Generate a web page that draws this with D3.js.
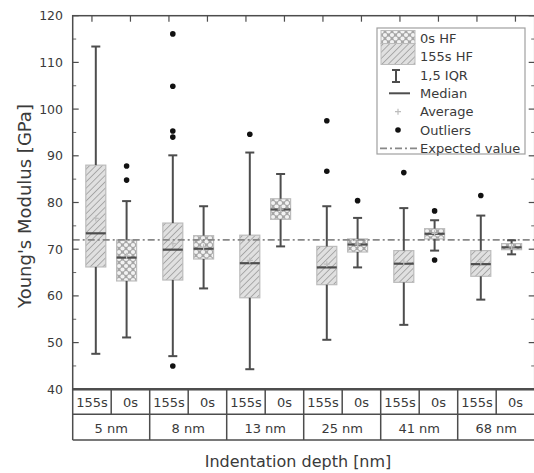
<!DOCTYPE html>
<html>
<head>
<meta charset="utf-8">
<script src="https://cdn.jsdelivr.net/npm/d3@7"></script>
<style>
  body { margin: 0; background: #fff; }
  text { font-family: "DejaVu Sans", sans-serif; fill: #3a3a3a; }
</style>
</head>
<body>
<script>
// depth groups and treatments (order inside each group: 155s then 0s)
var depths = ["5 nm", "8 nm", "13 nm", "25 nm", "41 nm", "68 nm"];
var treatments = ["155s", "0s"];
var yTicks = [40, 50, 60, 70, 80, 90, 100, 110, 120];
var expected = 72;

// 155s HF boxes
var lo155  = [47.6, 47.1, 44.3, 50.6, 53.8, 59.2];
var q1_155 = [66.2, 63.4, 59.6, 62.4, 62.9, 64.2];
var med155 = [73.4, 69.9, 67.0, 66.1, 66.9, 66.8];
var q3_155 = [88.0, 75.6, 73.0, 70.6, 69.7, 69.7];
var hi155  = [113.4, 90.1, 90.7, 79.2, 78.8, 77.2];
var avg155 = [76.6, 71.2, 67.6, 66.8, 67.2, 67.3];
var out155 = [[], [116.1, 104.9, 95.3, 94.0, 45.0], [94.6], [97.5, 86.7], [86.4], [81.5]];

// 0s HF boxes
var lo0  = [51.1, 61.6, 70.6, 66.1, 69.7, 68.9];
var q1_0 = [63.2, 67.9, 76.4, 69.4, 72.2, 69.9];
var med0 = [68.2, 70.1, 78.5, 71.0, 73.3, 70.4];
var q3_0 = [72.0, 72.9, 80.8, 72.2, 74.4, 71.2];
var hi0  = [80.3, 79.2, 86.1, 76.7, 76.2, 71.9];
var avg0 = [68.6, 70.4, 78.6, 71.1, 73.4, 70.5];
var out0 = [[87.8, 84.8], [], [], [80.4], [78.2, 67.7], []];

var W = 534, H = 473;
var pLeft = 72.7, pRight = 534.7, pTop = 15.7, pBottom = 389.3;
var row1 = 414.3, row2 = 440;

var svg = d3.select("body").append("svg")
    .attr("width", W).attr("height", H);

var defs = svg.append("defs");
// diagonal hatch for 155s
var p1 = defs.append("pattern").attr("id", "hatch")
    .attr("patternUnits", "userSpaceOnUse").attr("width", 4.5).attr("height", 4.5)
    .attr("patternTransform", "rotate(45)");
p1.append("rect").attr("width", 4.5).attr("height", 4.5).attr("fill", "#e0e0e0");
p1.append("line").attr("x1", 0).attr("y1", 0).attr("x2", 0).attr("y2", 4.5)
    .attr("stroke", "#9c9c9c").attr("stroke-width", 1.6);
// dotted pattern for 0s
var p2 = defs.append("pattern").attr("id", "dots")
    .attr("patternUnits", "userSpaceOnUse").attr("width", 7).attr("height", 7);
p2.append("rect").attr("width", 7).attr("height", 7).attr("fill", "#a6a6a6");
[[0, 0], [7, 0], [0, 7], [7, 7], [3.5, 3.5]].forEach(function (c) {
    p2.append("circle").attr("cx", c[0]).attr("cy", c[1]).attr("r", 2.1).attr("fill", "#f2f2f2");
});

var x = d3.scaleBand().domain(depths).range([pLeft, pRight]);
var sub = d3.scaleBand().domain(treatments).range([0, x.bandwidth()]);
var y = d3.scaleLinear().domain([40, 120]).range([pBottom, pTop]);

var bw = x.bandwidth();
var boxW = 20, capW = 9;
var dark = "#4d4d4d";
function cx(i, t) { return x(depths[i]) + bw / 2 + (t === "155s" ? -0.2 : 0.2) * bw; }

// build box list
var boxes = [];
depths.forEach(function (d, i) {
    boxes.push({ i: i, t: "155s", lo: lo155[i], q1: q1_155[i], med: med155[i], q3: q3_155[i], hi: hi155[i], avg: avg155[i], out: out155[i] });
    boxes.push({ i: i, t: "0s", lo: lo0[i], q1: q1_0[i], med: med0[i], q3: q3_0[i], hi: hi0[i], avg: avg0[i], out: out0[i] });
});

// y axis ticks (inside) left and right
var minor = d3.range(45, 120, 10);
yTicks.forEach(function (v) {
    svg.append("line").attr("x1", pLeft).attr("x2", pLeft + 6).attr("y1", y(v)).attr("y2", y(v))
        .attr("stroke", dark).attr("stroke-width", 1.2);
    svg.append("line").attr("x1", pRight - 6).attr("x2", pRight).attr("y1", y(v)).attr("y2", y(v))
        .attr("stroke", dark).attr("stroke-width", 1.2);
    svg.append("text").attr("x", 63).attr("y", y(v)).attr("dy", "0.36em")
        .attr("text-anchor", "end").style("font-size", "12.5px").text(v);
});
minor.forEach(function (v) {
    svg.append("line").attr("x1", pLeft).attr("x2", pLeft + 3.5).attr("y1", y(v)).attr("y2", y(v))
        .attr("stroke", "#666").attr("stroke-width", 1);
    svg.append("line").attr("x1", pRight - 3.5).attr("x2", pRight).attr("y1", y(v)).attr("y2", y(v))
        .attr("stroke", "#666").attr("stroke-width", 1);
});
// top ticks at every sub column
depths.forEach(function (d) {
    treatments.forEach(function (t) {
        var tx = x(d) + sub(t) + sub.bandwidth() / 2;
        svg.append("line").attr("x1", tx).attr("x2", tx).attr("y1", pTop).attr("y2", pTop + 6)
            .attr("stroke", dark).attr("stroke-width", 1.2);
    });
});

// boxes
var g = svg.append("g");
g.selectAll("rect.box").data(boxes).enter().append("rect")
    .attr("x", function (b) { return cx(b.i, b.t) - boxW / 2; })
    .attr("y", function (b) { return y(b.q3); })
    .attr("width", boxW)
    .attr("height", function (b) { return y(b.q1) - y(b.q3); })
    .attr("fill", function (b) { return b.t === "155s" ? "url(#hatch)" : "url(#dots)"; })
    .attr("stroke", "#bcbcbc").attr("stroke-width", 1.2);

// expected value line
svg.append("line").attr("x1", pLeft).attr("x2", pRight).attr("y1", y(expected)).attr("y2", y(expected))
    .attr("stroke", "#888").attr("stroke-width", 1.7).attr("stroke-dasharray", "7,3,2,3");

// whiskers, medians, averages, outliers
var g2 = svg.append("g");
boxes.forEach(function (b) {
    var c = cx(b.i, b.t);
    [[b.hi, b.q3], [b.q1, b.lo]].forEach(function (s) {
        g2.append("line").attr("x1", c).attr("x2", c).attr("y1", y(s[0])).attr("y2", y(s[1]))
            .attr("stroke", dark).attr("stroke-width", 2);
    });
    [b.hi, b.lo].forEach(function (v) {
        g2.append("line").attr("x1", c - capW / 2).attr("x2", c + capW / 2).attr("y1", y(v)).attr("y2", y(v))
            .attr("stroke", dark).attr("stroke-width", 2);
    });
    g2.append("line").attr("x1", c - boxW / 2).attr("x2", c + boxW / 2).attr("y1", y(b.med)).attr("y2", y(b.med))
        .attr("stroke", dark).attr("stroke-width", 2.2);
    g2.append("path").attr("d", "M" + (c - 3) + "," + y(b.avg) + "h6M" + c + "," + (y(b.avg) - 3) + "v6")
        .attr("stroke", "#bdbdbd").attr("stroke-width", 1.2);
    b.out.forEach(function (v) {
        g2.append("circle").attr("cx", c).attr("cy", y(v)).attr("r", 2.8).attr("fill", "#111");
    });
});

// frame
svg.append("rect").attr("x", pLeft).attr("y", pTop).attr("width", pRight - pLeft).attr("height", pBottom - pTop)
    .attr("fill", "none").attr("stroke", dark).attr("stroke-width", 1.5);
svg.append("line").attr("x1", pLeft).attr("x2", pRight).attr("y1", pBottom).attr("y2", pBottom)
    .attr("stroke", dark).attr("stroke-width", 2.5);

// table under the axis
[row1, row2].forEach(function (ry) {
    svg.append("line").attr("x1", pLeft).attr("x2", pRight).attr("y1", ry).attr("y2", ry)
        .attr("stroke", dark).attr("stroke-width", 1.5);
});
depths.forEach(function (d) {
    svg.append("line").attr("x1", x(d)).attr("x2", x(d)).attr("y1", pBottom).attr("y2", row2)
        .attr("stroke", dark).attr("stroke-width", 1.5);
    svg.append("line").attr("x1", x(d) + sub("0s")).attr("x2", x(d) + sub("0s")).attr("y1", pBottom).attr("y2", row1)
        .attr("stroke", dark).attr("stroke-width", 1.5);
    treatments.forEach(function (t) {
        svg.append("text").attr("x", x(d) + sub(t) + sub.bandwidth() / 2).attr("y", 406.5)
            .attr("text-anchor", "middle").style("font-size", "13px").text(t);
    });
    svg.append("text").attr("x", x(d) + bw / 2).attr("y", 433.3)
        .attr("text-anchor", "middle").style("font-size", "13px").text(d);
});

// axis titles
svg.append("text").attr("transform", "translate(31,206) rotate(-90)")
    .attr("text-anchor", "middle").style("font-size", "18px").text("Young's Modulus [GPa]");
svg.append("text").attr("x", 298).attr("y", 467)
    .attr("text-anchor", "middle").style("font-size", "16px").text("Indentation depth [nm]");

// legend
var lg = svg.append("g");
lg.append("rect").attr("x", 377).attr("y", 28).attr("width", 148).attr("height", 126)
    .attr("fill", "#fff").attr("stroke", "#a0a0a0").attr("stroke-width", 1.2);
lg.append("rect").attr("x", 381).attr("y", 30.5).attr("width", 34).attr("height", 13)
    .attr("fill", "url(#dots)").attr("stroke", "#bcbcbc");
lg.append("rect").attr("x", 381).attr("y", 43.5).attr("width", 34).attr("height", 21)
    .attr("fill", "url(#hatch)").attr("stroke", "#bcbcbc");
lg.append("path").attr("d", "M396,70v12M392,70h8M392,82h8").attr("stroke", dark).attr("stroke-width", 2).attr("fill", "none");
lg.append("line").attr("x1", 389).attr("x2", 410).attr("y1", 93.3).attr("y2", 93.3).attr("stroke", dark).attr("stroke-width", 2);
lg.append("path").attr("d", "M395,111.7h6M398,108.7v6").attr("stroke", "#bdbdbd").attr("stroke-width", 1.2);
lg.append("circle").attr("cx", 398).attr("cy", 130).attr("r", 2.8).attr("fill", "#111");
lg.append("line").attr("x1", 380).attr("x2", 418).attr("y1", 148.3).attr("y2", 148.3)
    .attr("stroke", "#888").attr("stroke-width", 1.7).attr("stroke-dasharray", "7,3,2,3");
var labels = ["0s HF", "155s HF", "1,5 IQR", "Median", "Average", "Outliers", "Expected value"];
labels.forEach(function (l, i) {
    lg.append("text").attr("x", 420).attr("y", 38.3 + i * 18.33).attr("dy", "0.36em")
        .style("font-size", "13px").text(l);
});
</script>
</body>
</html>
